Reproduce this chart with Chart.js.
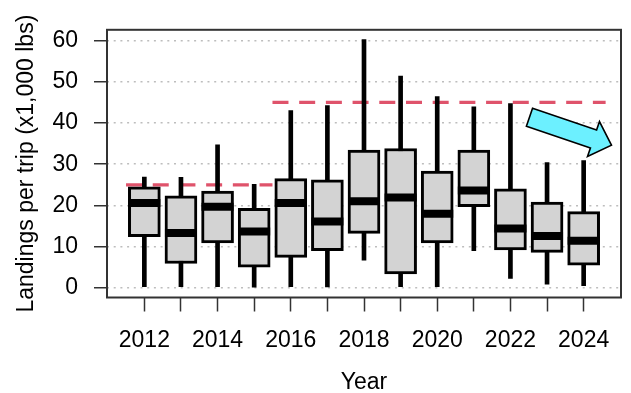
<!DOCTYPE html>
<html>
<head>
<meta charset="utf-8">
<script src="https://cdn.jsdelivr.net/npm/chart.js@4/dist/chart.umd.min.js"></script>
<style>
  html, body { margin: 0; padding: 0; background: #fff; overflow: hidden; }
  #wrap { width: 645px; height: 393px; }
</style>
</head>
<body>
<div id="wrap"><canvas id="c" width="645" height="393"></canvas></div>
<script>
// Landings per trip by year (x1,000 lbs): five-number summaries
const years   = [2012, 2013, 2014, 2015, 2016, 2017, 2018, 2019, 2020, 2021, 2022, 2023, 2024];
const mins    = [0.3, 0.3, 0.3, 0.0, 0.3, 0.2, 6.7, 0.3, 0.3, 9.0, 2.3, 0.9, 0.5];
const q1      = [12.4, 5.9, 10.9, 5.0, 7.4, 9.0, 13.2, 3.4, 10.9, 19.7, 9.2, 8.6, 5.5];
const medians = [20.6, 13.3, 19.7, 13.7, 20.6, 16.1, 21.0, 21.9, 18.0, 23.6, 14.4, 12.6, 11.4];
const q3      = [24.5, 22.3, 23.5, 19.3, 26.5, 26.2, 33.4, 33.8, 28.3, 33.4, 24.0, 20.8, 18.5];
const maxs    = [26.9, 26.8, 34.7, 25.1, 43.0, 44.2, 60.2, 51.4, 46.4, 43.9, 44.7, 30.4, 30.9];

// Trip limit periods
const limitStart = [2011.5, 2015.5];
const limitEnd   = [2015.5, 2024.6];
const limitValue = [25, 45];

// Tick values
const yTicks = [0, 10, 20, 30, 40, 50, 60];
const labelledYears = [2012, 2014, 2016, 2018, 2020, 2022, 2024];

// Trend arrow, in data units: [year, landings]
const arrowFrom = [2022.52, 41.4];
const arrowTo   = [2024.76, 34.6];

const FONT = "'Liberation Sans', Arial, sans-serif";

const boxRows     = years.map((yr, i) => ({ x: yr, y: [q1[i], q3[i]] }));
const whiskerRows = years.map((yr, i) => ({ x: yr, y: [mins[i], maxs[i]] }));
const medianRows  = years.map((yr, i) => ({ x: yr, y: medians[i] }));

const limitSets = limitValue.map((v, i) => ({
  type: 'line',
  data: [{ x: limitStart[i], y: v }, { x: limitEnd[i], y: v }],
  borderColor: '#DF536B',
  borderWidth: 3.2,
  borderDash: [16, 10.7],
  borderCapStyle: 'butt',
  pointRadius: 0,
  fill: false,
  order: 3
}));

// Frame around the plotting region plus the trend arrow
const framePlugin = {
  id: 'frame',
  afterDraw(chart) {
    const { ctx, chartArea: a, scales } = chart;
    ctx.save();
    ctx.strokeStyle = '#333';
    ctx.lineWidth = 2;
    ctx.strokeRect(a.left, a.top, a.right - a.left, a.bottom - a.top);

    const x0 = scales.x.getPixelForValue(arrowFrom[0]);
    const y0 = scales.y.getPixelForValue(arrowFrom[1]);
    const x1 = scales.x.getPixelForValue(arrowTo[0]);
    const y1 = scales.y.getPixelForValue(arrowTo[1]);
    const len = Math.hypot(x1 - x0, y1 - y0);
    const ux = (x1 - x0) / len, uy = (y1 - y0) / len;
    const nx = -uy, ny = ux;
    const shaft = 9.5, head = 18.5, headLen = 19;
    const bx = x1 - ux * headLen, by = y1 - uy * headLen;
    const pts = [
      [x0 + nx * shaft, y0 + ny * shaft],
      [bx + nx * shaft, by + ny * shaft],
      [bx + nx * head,  by + ny * head],
      [x1, y1],
      [bx - nx * head,  by - ny * head],
      [bx - nx * shaft, by - ny * shaft],
      [x0 - nx * shaft, y0 - ny * shaft]
    ];
    ctx.beginPath();
    pts.forEach((p, i) => i ? ctx.lineTo(p[0], p[1]) : ctx.moveTo(p[0], p[1]));
    ctx.closePath();
    ctx.fillStyle = '#6CF0FF';
    ctx.fill();
    ctx.lineWidth = 1.6;
    ctx.lineJoin = 'miter';
    ctx.strokeStyle = '#000';
    ctx.stroke();
    ctx.restore();
  }
};

new Chart(document.getElementById('c'), {
  type: 'bar',
  data: {
    datasets: [
      {
        type: 'line',
        data: medianRows,
        showLine: false,
        pointStyle: 'line',
        pointRadius: 16,
        pointHoverRadius: 16,
        pointBorderWidth: 8,
        pointBorderColor: '#000',
        borderColor: '#000',
        order: 0
      },
      {
        type: 'bar',
        data: boxRows,
        backgroundColor: '#D3D3D3',
        borderColor: '#000',
        borderWidth: 3,
        borderSkipped: false,
        barThickness: 32,
        grouped: false,
        order: 1
      },
      {
        type: 'bar',
        data: whiskerRows,
        backgroundColor: '#000',
        borderWidth: 0,
        barThickness: 4,
        grouped: false,
        order: 2
      },
      ...limitSets
    ]
  },
  options: {
    responsive: false,
    animation: false,
    events: [],
    layout: { padding: { left: 0, top: 14.7, right: 11.7, bottom: 0 } },
    plugins: { legend: { display: false }, tooltip: { enabled: false } },
    scales: {
      x: {
        type: 'linear',
        min: 2010.98,
        max: 2025.02,
        offset: false,
        afterBuildTicks: s => { s.ticks = years.map(v => ({ value: v })); },
        afterFit: s => { s.height = 95.5; },
        border: { display: false },
        grid: {
          offset: false,
          drawOnChartArea: false,
          drawTicks: true,
          tickLength: 14,
          tickColor: '#333',
          tickWidth: 1.5
        },
        ticks: {
          autoSkip: false,
          maxRotation: 0,
          padding: 15,
          color: '#000',
          font: { family: FONT, size: 23 },
          callback: v => labelledYears.includes(v) ? String(v) : ''
        },
        title: {
          display: true,
          text: 'Year',
          color: '#000',
          font: { family: FONT, size: 23, lineHeight: 0.9 },
          padding: { top: 0, bottom: 0 }
        }
      },
      y: {
        type: 'linear',
        min: -2.34,
        max: 62.6,
        afterBuildTicks: s => { s.ticks = yTicks.map(v => ({ value: v })); },
        afterFit: s => { s.width = 107; },
        border: { display: false, dash: [2, 4.7] },
        grid: {
          color: '#BDBDBD',
          lineWidth: 1.5,
          drawTicks: true,
          tickLength: 13,
          tickColor: '#333',
          tickWidth: 1.5,
          tickBorderDash: []
        },
        ticks: {
          padding: 16,
          color: '#000',
          font: { family: FONT, size: 23 },
          callback: v => String(v)
        },
        title: {
          display: true,
          text: 'Landings per trip (x1,000 lbs)',
          color: '#000',
          font: { family: FONT, size: 23 },
          padding: { top: 13, bottom: 0 }
        }
      }
    }
  },
  plugins: [framePlugin]
});
</script>
</body>
</html>
